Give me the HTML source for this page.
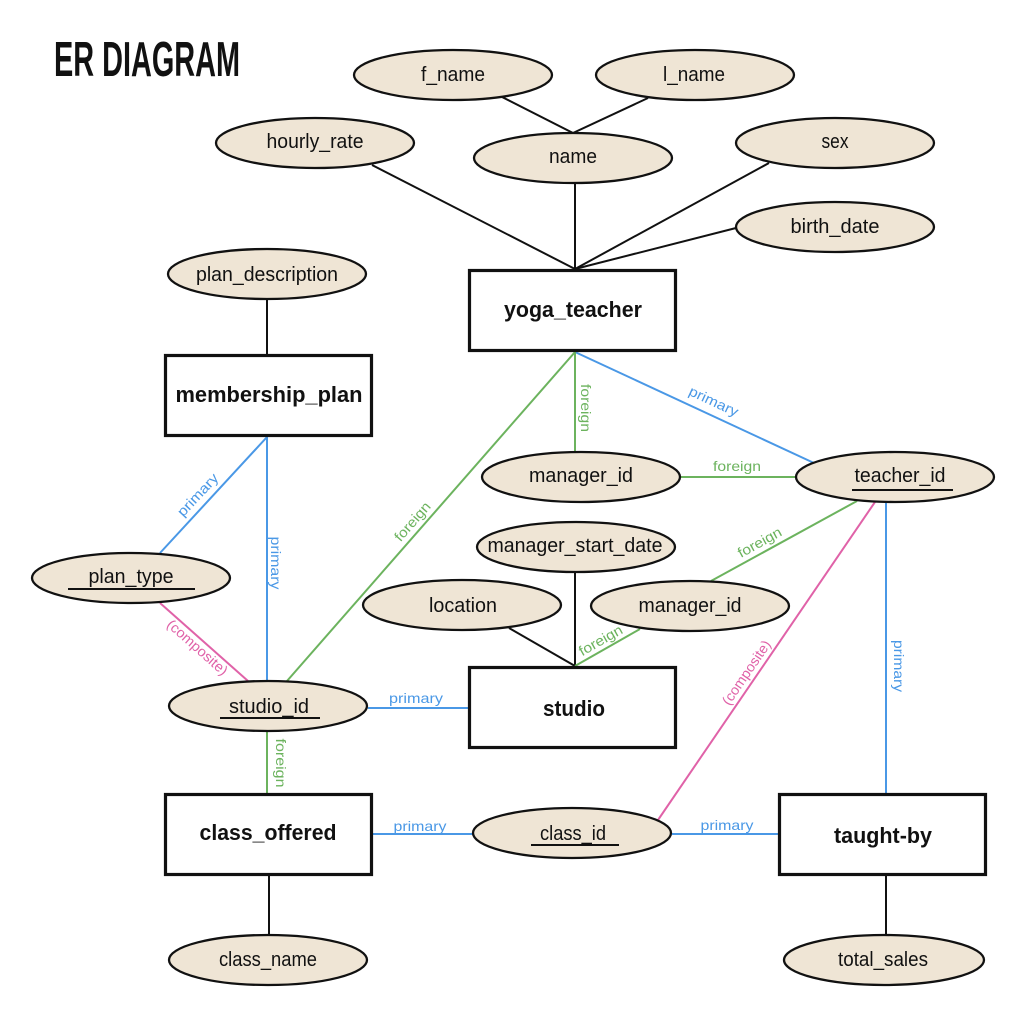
<!DOCTYPE html>
<html>
<head>
<meta charset="utf-8">
<style>
  html, body { margin: 0; padding: 0; background: #ffffff; }
  svg { display: block; }
  .attr { font-family: "Liberation Sans", sans-serif; font-size: 20px; fill: #111; }
  .ent { font-family: "Liberation Sans", sans-serif; font-size: 22px; font-weight: bold; fill: #111; }
  .lbl { font-family: "Liberation Sans", sans-serif; font-size: 14px; }
  .blue { fill: #4a98e6; }
  .green { fill: #6cb35e; }
  .pink { fill: #e062a8; }
</style>
</head>
<body>
<svg width="1024" height="1024" viewBox="0 0 1024 1024" xmlns="http://www.w3.org/2000/svg">
  <rect x="0" y="0" width="1024" height="1024" fill="#ffffff"/>

  <!-- Title -->
  <text x="54" y="76" font-family="Liberation Sans, sans-serif" font-weight="bold" font-size="49" textLength="186" lengthAdjust="spacingAndGlyphs" fill="#111">ER DIAGRAM</text>

  <!-- Black connectors -->
  <g stroke="#111" stroke-width="2" fill="none">
    <line x1="502" y1="97" x2="573" y2="133"/>
    <line x1="648" y1="98" x2="573" y2="133"/>
    <line x1="575" y1="183" x2="575" y2="269"/>
    <line x1="372" y1="165" x2="575" y2="269"/>
    <line x1="769" y1="163" x2="575" y2="269"/>
    <line x1="736" y1="228" x2="575" y2="269"/>
    <line x1="267" y1="300" x2="267" y2="354"/>
    <line x1="575" y1="572" x2="575" y2="666"/>
    <line x1="509" y1="628" x2="575" y2="666"/>
    <line x1="269" y1="876" x2="269" y2="935"/>
    <line x1="886" y1="874" x2="886" y2="935"/>
  </g>

  <!-- Blue connectors -->
  <g stroke="#4a98e6" stroke-width="2" fill="none">
    <line x1="575" y1="352" x2="814" y2="463"/>
    <line x1="267" y1="437" x2="160" y2="553"/>
    <line x1="267" y1="437" x2="267" y2="681"/>
    <line x1="368" y1="708" x2="468" y2="708"/>
    <line x1="373" y1="834" x2="473" y2="834"/>
    <line x1="672" y1="834" x2="778" y2="834"/>
    <line x1="886" y1="502" x2="886" y2="793"/>
  </g>

  <!-- Green connectors -->
  <g stroke="#6cb35e" stroke-width="2" fill="none">
    <line x1="575" y1="352" x2="575" y2="452"/>
    <line x1="575" y1="352" x2="287" y2="681"/>
    <line x1="681" y1="477" x2="796" y2="477"/>
    <line x1="857" y1="501" x2="711" y2="581"/>
    <line x1="640" y1="629" x2="575" y2="666"/>
    <line x1="267" y1="732" x2="267" y2="793"/>
  </g>

  <!-- Pink connectors -->
  <g stroke="#e062a8" stroke-width="2" fill="none">
    <line x1="160" y1="603" x2="248" y2="681"/>
    <line x1="875" y1="502" x2="658" y2="820"/>
  </g>

  <!-- Attribute ellipses -->
  <g fill="#efe5d5" stroke="#111" stroke-width="2.3">
    <ellipse cx="453" cy="75" rx="99" ry="25"/>
    <ellipse cx="695" cy="75" rx="99" ry="25"/>
    <ellipse cx="315" cy="143" rx="99" ry="25"/>
    <ellipse cx="573" cy="158" rx="99" ry="25"/>
    <ellipse cx="835" cy="143" rx="99" ry="25"/>
    <ellipse cx="835" cy="227" rx="99" ry="25"/>
    <ellipse cx="267" cy="274" rx="99" ry="25"/>
    <ellipse cx="581" cy="477" rx="99" ry="25"/>
    <ellipse cx="895" cy="477" rx="99" ry="25"/>
    <ellipse cx="576" cy="547" rx="99" ry="25"/>
    <ellipse cx="131" cy="578" rx="99" ry="25"/>
    <ellipse cx="462" cy="605" rx="99" ry="25"/>
    <ellipse cx="690" cy="606" rx="99" ry="25"/>
    <ellipse cx="268" cy="706" rx="99" ry="25"/>
    <ellipse cx="572" cy="833" rx="99" ry="25"/>
    <ellipse cx="268" cy="960" rx="99" ry="25"/>
    <ellipse cx="884" cy="960" rx="100" ry="25"/>
  </g>

  <!-- Entity rectangles -->
  <g fill="#ffffff" stroke="#111" stroke-width="3.2">
    <rect x="469.5" y="270.5" width="206" height="80"/>
    <rect x="165.5" y="355.5" width="206" height="80"/>
    <rect x="469.5" y="667.5" width="206" height="80"/>
    <rect x="165.5" y="794.5" width="206" height="80"/>
    <rect x="779.5" y="794.5" width="206" height="80"/>
  </g>

  <!-- Entity names -->
  <text class="ent" x="573" y="317" text-anchor="middle" textLength="138" lengthAdjust="spacingAndGlyphs">yoga_teacher</text>
  <text class="ent" x="269" y="402" text-anchor="middle" textLength="187" lengthAdjust="spacingAndGlyphs">membership_plan</text>
  <text class="ent" x="574" y="716" text-anchor="middle" textLength="62" lengthAdjust="spacingAndGlyphs">studio</text>
  <text class="ent" x="268" y="840" text-anchor="middle" textLength="137" lengthAdjust="spacingAndGlyphs">class_offered</text>
  <text class="ent" x="883" y="843" text-anchor="middle" textLength="98" lengthAdjust="spacingAndGlyphs">taught-by</text>

  <!-- Attribute names -->
  <text class="attr" x="453" y="81" text-anchor="middle" textLength="64" lengthAdjust="spacingAndGlyphs">f_name</text>
  <text class="attr" x="694" y="81" text-anchor="middle" textLength="62" lengthAdjust="spacingAndGlyphs">l_name</text>
  <text class="attr" x="315" y="148" text-anchor="middle" textLength="97" lengthAdjust="spacingAndGlyphs">hourly_rate</text>
  <text class="attr" x="573" y="163" text-anchor="middle" textLength="48" lengthAdjust="spacingAndGlyphs">name</text>
  <text class="attr" x="835" y="148" text-anchor="middle" textLength="27" lengthAdjust="spacingAndGlyphs">sex</text>
  <text class="attr" x="835" y="233" text-anchor="middle" textLength="89" lengthAdjust="spacingAndGlyphs">birth_date</text>
  <text class="attr" x="267" y="281" text-anchor="middle" textLength="142" lengthAdjust="spacingAndGlyphs">plan_description</text>
  <text class="attr" x="581" y="482" text-anchor="middle" textLength="104" lengthAdjust="spacingAndGlyphs">manager_id</text>
  <text class="attr" x="900" y="482" text-anchor="middle" textLength="91" lengthAdjust="spacingAndGlyphs">teacher_id</text>
  <text class="attr" x="575" y="552" text-anchor="middle" textLength="175" lengthAdjust="spacingAndGlyphs">manager_start_date</text>
  <text class="attr" x="131" y="583" text-anchor="middle" textLength="85" lengthAdjust="spacingAndGlyphs">plan_type</text>
  <text class="attr" x="463" y="612" text-anchor="middle" textLength="68" lengthAdjust="spacingAndGlyphs">location</text>
  <text class="attr" x="690" y="612" text-anchor="middle" textLength="103" lengthAdjust="spacingAndGlyphs">manager_id</text>
  <text class="attr" x="269" y="713" text-anchor="middle" textLength="80" lengthAdjust="spacingAndGlyphs">studio_id</text>
  <text class="attr" x="573" y="840" text-anchor="middle" textLength="66" lengthAdjust="spacingAndGlyphs">class_id</text>
  <text class="attr" x="268" y="966" text-anchor="middle" textLength="98" lengthAdjust="spacingAndGlyphs">class_name</text>
  <text class="attr" x="883" y="966" text-anchor="middle" textLength="90" lengthAdjust="spacingAndGlyphs">total_sales</text>

  <!-- Key underlines -->
  <g stroke="#111" stroke-width="2">
    <line x1="68" y1="589" x2="195" y2="589"/>
    <line x1="220" y1="718" x2="320" y2="718"/>
    <line x1="852" y1="490" x2="953" y2="490"/>
    <line x1="531" y1="845" x2="619" y2="845"/>
  </g>

  <!-- Horizontal connector labels -->
  <text class="lbl green" x="737" y="471" text-anchor="middle" textLength="48" lengthAdjust="spacingAndGlyphs">foreign</text>
  <text class="lbl blue" x="416" y="703" text-anchor="middle" textLength="54" lengthAdjust="spacingAndGlyphs">primary</text>
  <text class="lbl blue" x="420" y="831" text-anchor="middle" textLength="53" lengthAdjust="spacingAndGlyphs">primary</text>
  <text class="lbl blue" x="727" y="830" text-anchor="middle" textLength="53" lengthAdjust="spacingAndGlyphs">primary</text>

  <!-- Vertical connector labels -->
  <text class="lbl green" transform="translate(581,408) rotate(90)" x="0" y="0" text-anchor="middle" textLength="48" lengthAdjust="spacingAndGlyphs">foreign</text>
  <text class="lbl blue" transform="translate(271,563) rotate(90)" x="0" y="0" text-anchor="middle" textLength="53" lengthAdjust="spacingAndGlyphs">primary</text>
  <text class="lbl green" transform="translate(276,763) rotate(90)" x="0" y="0" text-anchor="middle" textLength="49" lengthAdjust="spacingAndGlyphs">foreign</text>
  <text class="lbl blue" transform="translate(894,666) rotate(90)" x="0" y="0" text-anchor="middle" textLength="52" lengthAdjust="spacingAndGlyphs">primary</text>

  <!-- Diagonal connector labels -->
  <text class="lbl blue" transform="translate(713,403) rotate(25)" x="0" y="3" text-anchor="middle" textLength="53" lengthAdjust="spacingAndGlyphs">primary</text>
  <text class="lbl green" transform="translate(760,543) rotate(-28.7)" x="0" y="4" text-anchor="middle" textLength="48" lengthAdjust="spacingAndGlyphs">foreign</text>
  <text class="lbl green" transform="translate(601,641) rotate(-29.6)" x="0" y="4" text-anchor="middle" textLength="48" lengthAdjust="spacingAndGlyphs">foreign</text>
  <text class="lbl pink" transform="translate(747,673) rotate(-55.7)" x="0" y="4" text-anchor="middle" textLength="75" lengthAdjust="spacingAndGlyphs">(composite)</text>
  <text class="lbl green" transform="translate(413,522) rotate(-48.8)" x="0" y="4" text-anchor="middle" textLength="47" lengthAdjust="spacingAndGlyphs">foreign</text>
  <text class="lbl blue" transform="translate(199,496) rotate(-47)" x="0" y="3" text-anchor="middle" textLength="53" lengthAdjust="spacingAndGlyphs">primary</text>
  <text class="lbl pink" transform="translate(197,648) rotate(41.6)" x="0" y="4" text-anchor="middle" textLength="76" lengthAdjust="spacingAndGlyphs">(composite)</text>
</svg>
</body>
</html>
